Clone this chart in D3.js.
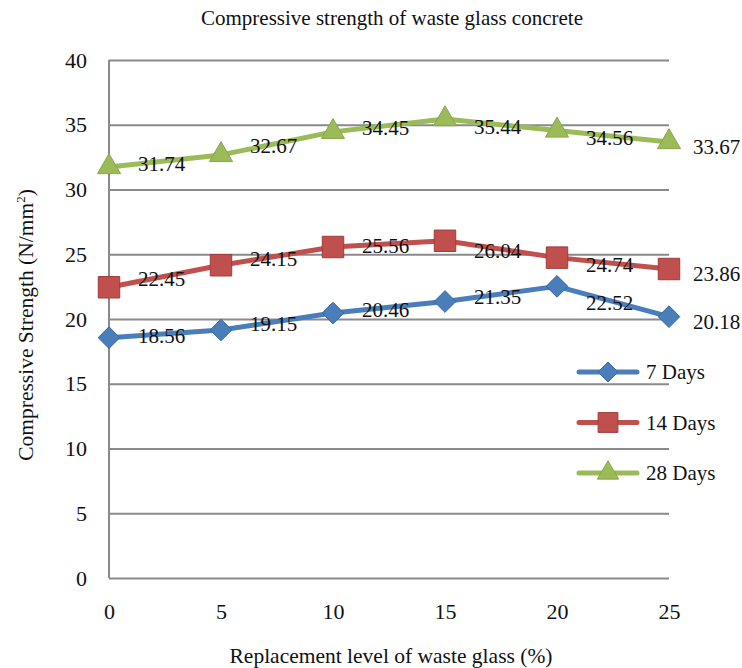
<!DOCTYPE html>
<html>
<head>
<meta charset="utf-8">
<script src="https://cdn.jsdelivr.net/npm/d3@7"></script>
<style>
  body { margin: 0; background: #fff; }
  text { font-family: "Liberation Serif", "Times New Roman", serif; fill: #111; }
</style>
</head>
<body>
<div id="chart"></div>
<script>
// data
var replacement = [0, 5, 10, 15, 20, 25];
var days7  = [18.56, 19.15, 20.46, 21.35, 22.52, 20.18];
var days14 = [22.45, 24.15, 25.56, 26.04, 24.74, 23.86];
var days28 = [31.74, 32.67, 34.45, 35.44, 34.56, 33.67];
var seriesNames = ["7 Days", "14 Days", "28 Days"];
var yTicks = [0, 5, 10, 15, 20, 25, 30, 35, 40];
var xTicks = [0, 5, 10, 15, 20, 25];

var W = 742, H = 668;
var margin = {top: 60, right: 73, bottom: 90, left: 109},
    width = W - margin.left - margin.right,
    height = H - margin.top - margin.bottom;

var svg = d3.select("#chart")
    .append("svg")
        .attr("width", W)
        .attr("height", H);

var g = svg.append("g")
    .attr("transform", "translate(" + margin.left + "," + margin.top + ")");

var x = d3.scaleLinear().domain([0, 25]).range([0, width]);
var y = d3.scaleLinear().domain([0, 40]).range([height, 0]);

// title
svg.append("text")
    .attr("x", 392)
    .attr("y", 25)
    .attr("text-anchor", "middle")
    .style("font-size", "21px")
    .text("Compressive strength of waste glass concrete");

// gridlines + y tick labels
g.append("g")
    .call(d3.axisLeft(y).tickValues(yTicks).tickSize(-width).tickPadding(22))
    .call(function(a) { a.select(".domain").remove(); })
    .call(function(a) {
        a.selectAll("line").attr("stroke", "#8a8a8a").attr("stroke-width", 2);
        a.selectAll("text").style("font-size", "22px").attr("fill", "#111")
            .style("font-family", "Liberation Serif");
    });

// left axis line
g.append("line")
    .attr("x1", 0).attr("x2", 0)
    .attr("y1", 0).attr("y2", height)
    .attr("stroke", "#8a8a8a")
    .attr("stroke-width", 2);

// x tick labels
g.append("g")
    .attr("transform", "translate(0," + height + ")")
    .call(d3.axisBottom(x).tickValues(xTicks).tickSize(0).tickPadding(25))
    .call(function(a) { a.select(".domain").remove(); })
    .call(function(a) {
        a.selectAll("text").style("font-size", "22px").attr("fill", "#111")
            .style("font-family", "Liberation Serif");
    });

// axis titles
svg.append("text")
    .attr("x", 391)
    .attr("y", 663)
    .attr("text-anchor", "middle")
    .style("font-size", "21.5px")
    .text("Replacement level of waste glass (%)");

var yTitle = svg.append("text")
    .attr("transform", "translate(33,325) rotate(-90)")
    .attr("text-anchor", "middle")
    .style("font-size", "21.5px");
yTitle.append("tspan").text("Compressive Strength (N/mm");
yTitle.append("tspan").attr("dy", -8).style("font-size", "13px").text("2");
yTitle.append("tspan").attr("dy", 8).text(")");

// series
var series = [
    {name: seriesNames[0], values: days7,  color: "#4a7ebb", edge: "#3a67a0", shape: d3.symbolDiamond2, size: 300},
    {name: seriesNames[1], values: days14, color: "#c0504d", edge: "#a03b38", shape: d3.symbolSquare,   size: 460},
    {name: seriesNames[2], values: days28, color: "#9bbb59", edge: "#86a74a", shape: d3.symbolTriangle, size: 230}
];

var line = d3.line()
    .x(function(d, i) { return x(replacement[i]); })
    .y(function(d) { return y(d); });

series.forEach(function(s) {
    g.append("path")
        .datum(s.values)
        .attr("d", line)
        .attr("fill", "none")
        .attr("stroke", s.color)
        .attr("stroke-width", 5)
        .attr("stroke-linejoin", "round");
});

series.forEach(function(s) {
    g.selectAll(null)
        .data(s.values)
        .enter()
        .append("path")
            .attr("d", d3.symbol().type(s.shape).size(s.size))
            .attr("transform", function(d, i) {
                return "translate(" + x(replacement[i]) + "," + y(d) + ")";
            })
            .attr("fill", s.color)
            .attr("stroke", s.edge)
            .attr("stroke-width", 1);
});

// data labels, sitting on the line to the right of each point
series.forEach(function(s) {
    var n = s.values.length;
    g.selectAll(null)
        .data(s.values)
        .enter()
        .append("text")
            .attr("x", function(d, i) { return x(replacement[i]) + (i < n - 1 ? 29 : 24); })
            .attr("y", function(d, i) {
                if (i < n - 1) {
                    var y0 = y(d), y1 = y(s.values[i + 1]);
                    return y0 + (y1 - y0) * 0.48 + 2;
                }
                return y(d) + 5;
            })
            .attr("dy", "0.35em")
            .style("font-size", "21px")
            .text(function(d) { return d.toFixed(2); });
});

// legend
var legend = svg.append("g").attr("transform", "translate(579,372)");
series.forEach(function(s, i) {
    var row = legend.append("g").attr("transform", "translate(0," + (i * 50.5) + ")");
    row.append("line")
        .attr("x1", 0).attr("x2", 58)
        .attr("stroke", s.color)
        .attr("stroke-width", 5)
        .attr("stroke-linecap", "round");
    row.append("path")
        .attr("d", d3.symbol().type(s.shape).size(s.size * 0.85))
        .attr("transform", "translate(29,0)")
        .attr("fill", s.color)
        .attr("stroke", s.edge);
    row.append("text")
        .attr("x", 67)
        .attr("dy", "0.35em")
        .style("font-size", "21px")
        .text(s.name);
});
</script>
</body>
</html>
